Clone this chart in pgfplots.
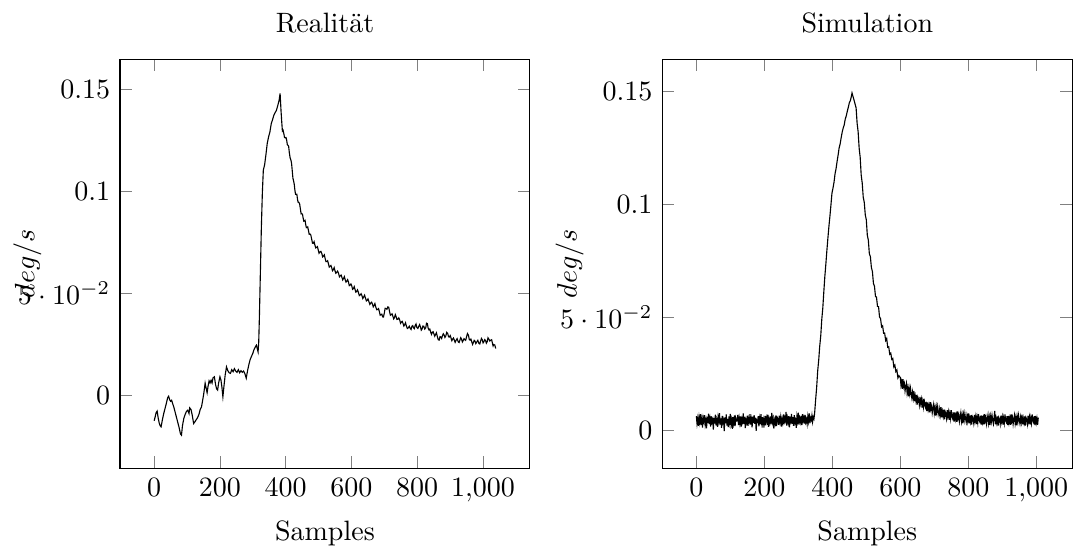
\documentclass[border=0pt]{standalone}
\usepackage{pgfplots}
\pgfplotsset{compat=1.18}
\begin{document}
\begin{tikzpicture}
\pgfplotsset{
  every axis/.append style={scale only axis, width=146.4pt, height=146.1pt},
}
\begin{axis}[
  name=left,
  at={(0,0)}, anchor=south west,
  title={Realität},
  xlabel={Samples},
  ylabel={$deg/s$},
  ylabel style={at={(axis description cs:-0.226,0.5)}, anchor=center},
  xmin=-104, xmax=1143, ymin=-0.0359, ymax=0.1646,
  xtick={0,200,400,600,800,1000},
  ytick={0,0.05,0.1,0.15},
]
\addplot[black, mark=none] table {
0 -0.0125
3 -0.0106
6 -0.0085
9 -0.0078
12 -0.0110
15 -0.0135
18 -0.0150
21 -0.0155
25 -0.0120
29 -0.0090
33 -0.0065
37 -0.0040
41 -0.0012
44 -0.0005
47 -0.0022
50 -0.0030
53 -0.0025
56 -0.0040
60 -0.0060
64 -0.0085
68 -0.0110
72 -0.0135
76 -0.0160
80 -0.0190
83 -0.0196
86 -0.0150
90 -0.0115
94 -0.0095
98 -0.0080
102 -0.0074
106 -0.0090
108 -0.0062
112 -0.0070
116 -0.0100
120 -0.0139
124 -0.0130
128 -0.0120
132 -0.0110
136 -0.0095
140 -0.0070
144 -0.0057
148 -0.0020
151 0.0010
155 0.0059
158 0.0035
161 0.0012
164 0.0045
167 0.0070
170 0.0060
173 0.0073
176 0.0060
179 0.0085
183 0.0090
187 0.0050
190 0.0030
193 0.0025
196 0.0060
200 0.0090
203 0.0075
206 0.0040
209 -0.0008
212 0.0040
216 0.0100
220 0.0139
224 0.0120
228 0.0110
232 0.0107
236 0.0125
240 0.0115
244 0.0130
248 0.0118
252 0.0112
256 0.0125
260 0.0110
264 0.0120
268 0.0112
272 0.0118
276 0.0105
280 0.0083
284 0.0120
288 0.0150
292 0.0175
296 0.0190
300 0.0205
304 0.0225
308 0.0238
311 0.0245
314 0.0225
316 0.0212
318 0.0260
320 0.0380
323 0.0600
326 0.0820
329 0.0990
332 0.1103
336 0.1130
340 0.1180
344 0.1235
348 0.1266
352 0.1290
356 0.1330
360 0.1350
364 0.1372
368 0.1385
372 0.1397
376 0.1420
380 0.1445
383 0.1479
386 0.1390
388 0.1340
390 0.1295
392 0.1299
394 0.1285
396.5 0.1263
399 0.1262
401 0.1263
403 0.1250
405 0.1228
407 0.1225
409 0.1220
411 0.1190
413.5 0.1163
416 0.1152
418 0.1135
420 0.1100
422 0.1064
424 0.1050
426 0.1035
428 0.1005
430 0.0985
432 0.0985
434 0.0985
436 0.0960
438 0.0945
440 0.0945
442.5 0.0937
445 0.0910
447 0.0889
449 0.0890
451 0.0887
453 0.0870
455 0.0853
457 0.0855
459 0.0857
461 0.0835
463 0.0821
465 0.0822
467 0.0825
469 0.0809
471.5 0.0789
474 0.0790
476.5 0.0785
479 0.0765
481.5 0.0745
484 0.0744
486.5 0.0752
489 0.0735
491.5 0.0722
494 0.0725
496.5 0.0728
499 0.0712
501.5 0.0696
504 0.0702
507 0.0705
510 0.0694
512.5 0.0678
515 0.0682
517.5 0.0688
520 0.0670
522.5 0.0655
525 0.0655
527.5 0.0659
530 0.0645
532.5 0.0628
535 0.0632
537.5 0.0636
540 0.0625
542.5 0.0610
545 0.0615
547.5 0.0625
550 0.0610
552.5 0.0598
555 0.0602
558 0.0608
561 0.0596
563.5 0.0580
566 0.0585
568.5 0.0589
571 0.0578
573.5 0.0565
576 0.0572
578.5 0.0581
581 0.0566
583.5 0.0554
586 0.0558
588.5 0.0566
591 0.0555
593.5 0.0537
596 0.0540
598.5 0.0545
601 0.0536
603.5 0.0519
606 0.0522
608.5 0.0532
611 0.0518
613.5 0.0505
616 0.0508
618.5 0.0516
621 0.0505
624 0.0488
627 0.0492
629.5 0.0497
632 0.0488
634.5 0.0474
637 0.0480
640 0.0490
643 0.0475
645.5 0.0462
648 0.0465
650.5 0.0472
653 0.0460
656 0.0445
659 0.0452
661.5 0.0456
664 0.0446
666.5 0.0433
669 0.0440
671.5 0.0449
674 0.0433
677 0.0419
680 0.0420
682.5 0.0424
685 0.0410
687.5 0.0392
690 0.0395
692.5 0.0397
695 0.0384
697.5 0.0383
700 0.0402
702.5 0.0426
705 0.0425
708 0.0421
711 0.0433
713.5 0.0431
716 0.0410
718.5 0.0392
721 0.0395
723.5 0.0399
726 0.0388
728.5 0.0374
731 0.0380
733.5 0.0395
736 0.0385
738.5 0.0371
741 0.0372
744 0.0379
747 0.0368
749.5 0.0352
752 0.0358
754.5 0.0362
757 0.0352
759.5 0.0339
762 0.0345
764.5 0.0355
767 0.0340
770 0.0327
773 0.0330
776 0.0338
779 0.0327
781.5 0.0322
784 0.0338
786.5 0.0341
789 0.0330
791.5 0.0326
794 0.0342
796.5 0.0349
799 0.0332
802 0.0327
805 0.0338
807.5 0.0346
810 0.0335
812.5 0.0319
815 0.0325
817.5 0.0339
820 0.0338
823 0.0324
826 0.0330
828.5 0.0353
831 0.0351
833.5 0.0328
836 0.0320
838.5 0.0324
841 0.0310
843.5 0.0298
846 0.0308
848.5 0.0311
851 0.0300
853.5 0.0289
856 0.0298
858.5 0.0306
861 0.0290
864 0.0272
867 0.0270
869.5 0.0287
872 0.0285
874.5 0.0278
877 0.0292
879.5 0.0301
882 0.0295
884.5 0.0283
887 0.0290
890 0.0308
893 0.0302
895.5 0.0286
898 0.0285
900.5 0.0292
903 0.0280
905.5 0.0267
908 0.0275
910.5 0.0280
913 0.0270
915.5 0.0259
918 0.0268
921.5 0.0277
925 0.0261
927.5 0.0258
930 0.0270
932.5 0.0282
935 0.0275
937.5 0.0261
940 0.0268
942.5 0.0277
945 0.0272
947.5 0.0269
950 0.0285
953 0.0302
956 0.0294
958.5 0.0274
961 0.0270
963.5 0.0275
966 0.0262
968.5 0.0249
971 0.0258
973.5 0.0269
976 0.0265
978.5 0.0253
981 0.0260
984.5 0.0269
988 0.0253
990.5 0.0251
993 0.0265
995.5 0.0278
998 0.0272
1000.5 0.0256
1003 0.0262
1005.5 0.0272
1008 0.0268
1010.5 0.0255
1013 0.0262
1015.5 0.0281
1018 0.0275
1021 0.0265
1024 0.0270
1026.5 0.0272
1029 0.0255
1031 0.0241
1033 0.0248
1036 0.0246
1039 0.0229
};
\end{axis}
\begin{axis}[
  name=right,
  at={(193.7pt,0)}, anchor=south west,
  title={Simulation},
  xlabel={Samples},
  ylabel={$deg/s$},
  ylabel style={at={(axis description cs:-0.226,0.5)}, anchor=center},
  xmin=-100, xmax=1106, ymin=-0.0170, ymax=0.1643,
  xtick={0,200,400,600,800,1000},
  ytick={0,0.05,0.1,0.15},
]
\addplot[black, mark=none] table {
0 0.0062
2 0.0028
4 0.0051
6 0.0019
8 0.0057
10 0.0034
12 0.0070
14 0.0023
16 0.0048
18 0.0011
20 0.0055
22 0.0039
24 0.0066
26 0.0025
28 0.0044
30 0.0008
32 0.0059
34 0.0031
36 0.0073
38 0.0027
40 0.0050
42 0.0016
44 0.0061
46 0.0036
48 0.0047
50 0.0002
52 0.0054
54 0.0029
56 0.0068
58 0.0021
60 0.0043
62 0.0014
64 0.0058
66 0.0038
68 0.0075
70 0.0024
72 0.0052
74 0.0010
76 0.0063
78 0.0033
80 0.0046
82 -0.0005
84 0.0056
86 0.0030
88 0.0069
90 0.0020
92 0.0049
94 0.0013
96 0.0060
98 0.0035
100 0.0072
102 0.0026
104 0.0045
106 0.0006
108 0.0057
110 0.0032
112 0.0065
114 0.0018
116 0.0053
118 0.0040
120 0.0041
122 0.0067
124 0.0022
126 0.0053
128 0.0030
130 0.0061
132 0.0015
134 0.0049
136 0.0036
138 0.0074
140 0.0027
142 0.0058
144 0.0009
146 0.0045
148 0.0033
150 0.0064
152 0.0019
154 0.0052
156 0.0038
158 0.0070
160 0.0024
162 0.0047
164 0.0012
166 0.0059
168 0.0031
170 0.0066
172 0.0028
174 0.0055
176 -0.0003
178 0.0043
180 0.0037
182 0.0062
184 0.0017
186 0.0050
188 0.0026
190 0.0071
192 0.0034
194 0.0057
196 0.0011
198 0.0046
200 0.0029
202 0.0063
204 0.0021
206 0.0054
208 0.0039
210 0.0068
212 0.0014
214 0.0048
216 0.0032
218 0.0060
220 0.0025
222 0.0076
224 0.0035
226 0.0051
228 0.0007
230 0.0044
232 0.0030
234 0.0065
236 0.0018
238 0.0056
240 0.0050
242 0.0023
244 0.0064
246 0.0037
248 0.0058
250 0.0016
252 0.0047
254 0.0031
256 0.0069
258 0.0026
260 0.0055
262 0.0042
264 0.0081
266 0.0020
268 0.0053
270 0.0034
272 0.0062
274 0.0012
276 0.0049
278 0.0038
280 0.0072
282 0.0028
284 0.0057
286 0.0019
288 0.0066
290 0.0033
292 0.0045
294 0.0010
296 0.0060
298 0.0040
300 0.0077
302 0.0024
304 0.0052
306 0.0036
308 0.0063
310 0.0022
312 0.0070
314 0.0041
316 0.0056
318 0.0029
320 0.0067
322 0.0035
324 0.0048
326 0.0027
328 0.0061
330 0.0039
332 0.0074
334 0.0030
336 0.0054
338 0.0044
340 0.0065
342 0.0037
344 0.0058
346 0.0050
348 0.0075
351 0.0135
354 0.0190
357 0.0262
360 0.0310
363 0.0372
366 0.0418
369 0.0490
372 0.0540
375 0.0612
378 0.0680
381 0.0735
384 0.0795
387 0.0850
390 0.0902
393 0.0948
396 0.0998
399 0.1050
402 0.1072
405 0.1098
408 0.1135
411 0.1158
414 0.1190
417 0.1218
420 0.1250
423 0.1268
426 0.1295
429 0.1320
432 0.1338
435 0.1352
438 0.1378
441 0.1392
444 0.1412
447 0.1430
450 0.1450
453 0.1460
456 0.1478
458 0.1494
461 0.1478
464 0.1462
467 0.1445
470 0.1428
473 0.1360
476 0.1322
479 0.1249
482 0.1209
485 0.1130
488 0.1095
491 0.1032
494 0.1010
497 0.0954
500 0.0932
503 0.0864
506 0.0842
509 0.0781
512 0.0769
515 0.0720
518 0.0703
521 0.0650
524 0.0638
527 0.0593
530 0.0589
533 0.0548
536 0.0547
539 0.0501
542 0.0494
545 0.0457
548 0.0462
551 0.0429
554 0.0430
557 0.0397
560 0.0406
563 0.0367
566 0.0369
569 0.0336
572 0.0341
575 0.0313
578 0.0317
581 0.0280
584 0.0288
587 0.0259
590 0.0266
593 0.0231
596 0.0241
600 0.0233
602 0.0199
604 0.0215
606 0.0183
608 0.0226
610 0.0193
612 0.0206
614 0.0173
616 0.0192
618 0.0207
620 0.0165
622 0.0186
624 0.0150
626 0.0185
628 0.0160
630 0.0185
632 0.0160
634 0.0142
636 0.0168
638 0.0143
640 0.0173
642 0.0128
644 0.0151
646 0.0130
648 0.0156
650 0.0113
652 0.0145
654 0.0135
656 0.0112
658 0.0147
660 0.0118
662 0.0136
664 0.0100
666 0.0127
668 0.0103
670 0.0139
672 0.0109
674 0.0100
676 0.0126
678 0.0084
680 0.0123
682 0.0092
684 0.0109
686 0.0079
688 0.0124
690 0.0093
692 0.0107
694 0.0076
696 0.0096
698 0.0113
700 0.0075
702 0.0098
704 0.0064
706 0.0101
708 0.0077
710 0.0104
712 0.0081
714 0.0065
716 0.0093
718 0.0069
720 0.0101
722 0.0057
724 0.0082
726 0.0062
728 0.0090
730 0.0048
732 0.0082
734 0.0073
736 0.0052
738 0.0088
740 0.0061
742 0.0080
744 0.0045
746 0.0073
748 0.0051
750 0.0088
752 0.0059
754 0.0051
756 0.0078
758 0.0038
760 0.0078
762 0.0048
764 0.0066
766 0.0037
768 0.0083
770 0.0053
772 0.0068
774 0.0038
776 0.0059
778 0.0077
780 0.0040
782 0.0064
784 0.0030
786 0.0068
788 0.0045
790 0.0073
792 0.0050
794 0.0035
796 0.0063
798 0.0041
800 0.0074
802 0.0030
804 0.0056
806 0.0037
808 0.0066
810 0.0024
812 0.0059
814 0.0051
816 0.0031
818 0.0067
820 0.0041
822 0.0061
824 0.0027
826 0.0056
828 0.0033
830 0.0071
832 0.0043
834 0.0036
836 0.0064
838 0.0024
840 0.0065
842 0.0035
844 0.0053
846 0.0024
848 0.0071
850 0.0041
852 0.0057
854 0.0027
856 0.0049
858 0.0067
860 0.0031
862 0.0055
864 0.0022
866 0.0060
868 0.0038
870 0.0065
872 0.0043
874 0.0028
876 0.0057
878 0.0085
880 0.0025
882 0.0051
884 0.0032
886 0.0061
888 0.0020
890 0.0055
892 0.0047
894 0.0027
896 0.0064
898 0.0038
900 0.0058
902 0.0024
904 0.0053
906 0.0031
908 0.0069
910 0.0041
912 0.0034
914 0.0062
916 0.0022
918 0.0063
920 0.0033
922 0.0052
924 0.0023
926 0.0070
928 0.0040
930 0.0056
932 0.0026
934 0.0048
936 0.0066
938 0.0030
940 0.0054
942 0.0021
944 0.0059
946 0.0037
948 0.0065
950 0.0043
952 0.0028
954 0.0057
956 0.0035
958 0.0068
960 0.0025
962 0.0051
964 0.0032
966 0.0061
968 0.0020
970 0.0055
972 0.0047
974 0.0027
976 0.0064
978 0.0038
980 0.0058
982 0.0024
984 0.0053
986 0.0031
988 0.0069
990 0.0041
992 0.0034
994 0.0062
996 0.0022
998 0.0063
1000 0.0033
1002 0.0052
1004 0.0023
1006 0.0055
};
\end{axis}
\pgfresetboundingbox
\path[use as bounding box] (-42.86pt,-28.04pt) rectangle (340.36pt,167.3pt);
\end{tikzpicture}
\end{document}
